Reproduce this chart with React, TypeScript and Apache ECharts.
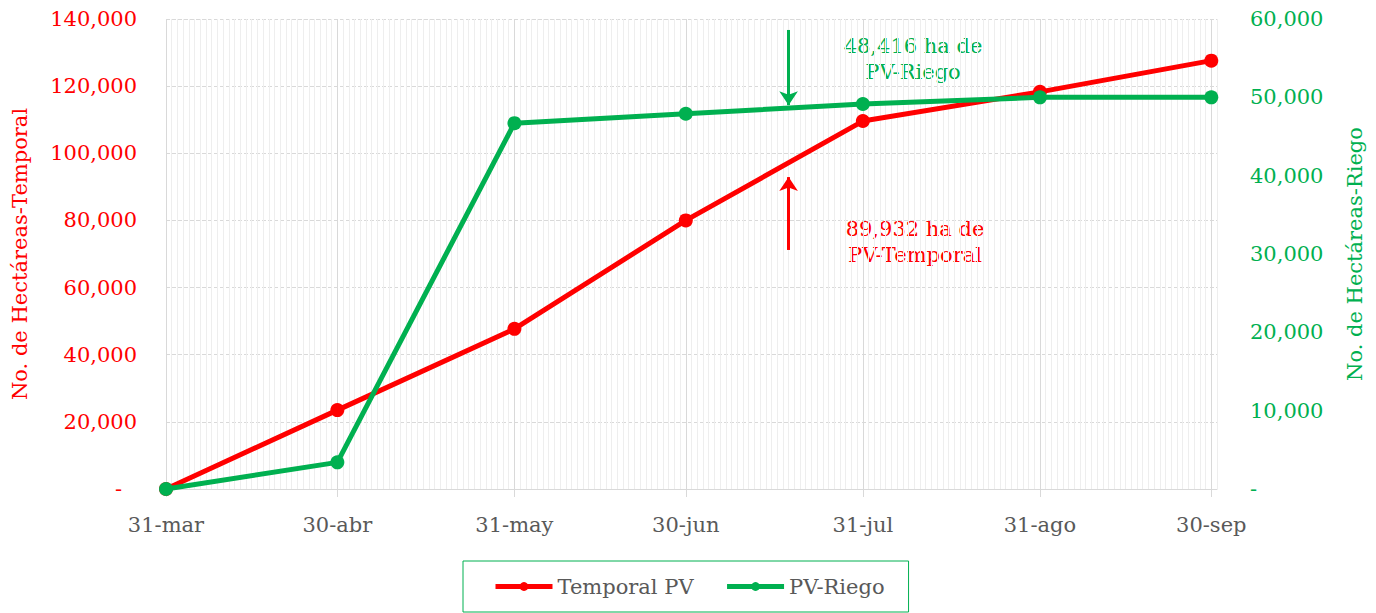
import React, { useEffect, useRef } from "react";
import * as echarts from "echarts";

const fechas = ["31-mar", "30-abr", "31-may", "30-jun", "31-jul", "31-ago", "30-sep"];
const temporalPV = [0, 23500, 47700, 80000, 109600, 118300, 127600];
const pvRiego = [0, 3400, 46700, 47900, 49150, 50000, 50000];
const arrowDay = "18-jul";
const arrowTemporal = [71200, 92900];
const arrowRiego = [58600, 49000];
const meses = ["ene", "feb", "mar", "abr", "may", "jun", "jul", "ago", "sep", "oct", "nov", "dic"];

const RED = "#ff0000";
const GREEN = "#00b050";
const GRAY = "#595959";
const FONT = "DejaVu Serif";
const FS = 21;

function buildDays(): string[] {
  const out: string[] = [];
  const d = new Date(2024, 2, 31);
  const end = new Date(2024, 9, 1);
  while (d <= end) {
    out.push(`${d.getDate()}-${meses[d.getMonth()]}`);
    d.setDate(d.getDate() + 1);
  }
  return out;
}

export default function App() {
  const ref = useRef<HTMLDivElement>(null);
  useEffect(() => {
    if (!ref.current) return;
    const chart = echarts.init(ref.current, undefined, { renderer: "svg" });
    const days = buildDays();
    const isMajor = (_i: number, v: string) => fechas.indexOf(v) >= 0;
    const fmt = (v: number) => (v === 0 ? "-" : v.toLocaleString("en-US"));
    chart.setOption({
      animation: false,
      textStyle: { fontFamily: FONT },
      grid: { left: 166, right: 159, top: 19, bottom: 124 },
      xAxis: [
        {
          type: "category",
          data: days,
          position: "bottom",
          boundaryGap: false,
          axisLine: { show: false },
          axisTick: { show: false },
          axisLabel: { show: false },
          splitLine: { show: true, interval: 0, lineStyle: { color: "#eeeeee", width: 1 } },
        },
        {
          type: "category",
          data: days,
          position: "bottom",
          boundaryGap: false,
          axisLine: { show: true, lineStyle: { color: "#d9d9d9", width: 1 } },
          axisTick: { show: true, interval: isMajor, length: 8, lineStyle: { color: "#d9d9d9" } },
          axisLabel: {
            interval: isMajor,
            color: GRAY,
            fontFamily: FONT,
            fontSize: FS,
            margin: 25,
          },
          splitLine: { show: true, interval: isMajor, lineStyle: { color: "#d9d9d9", width: 1 } },
        },
      ],
      yAxis: [
        {
          type: "value",
          min: 0,
          max: 140000,
          interval: 20000,
          name: "No. de Hectáreas-Temporal",
          nameLocation: "middle",
          nameRotate: 90,
          nameGap: 136,
          nameTextStyle: { color: RED, fontSize: FS, fontFamily: FONT },
          axisLine: { show: false },
          axisTick: { show: false },
          axisLabel: {
            color: RED,
            fontSize: FS,
            fontFamily: FONT,
            margin: 29,
            formatter: (v: number) => (v === 0 ? "{z|-}" : fmt(v)),
            rich: { z: { color: RED, fontSize: FS, fontFamily: FONT, padding: [0, 15, 0, 0] } },
          },
          splitLine: { show: true, lineStyle: { color: "#d9d9d9", type: "dashed", width: 1 } },
        },
        {
          type: "value",
          min: 0,
          max: 60000,
          interval: 10000,
          position: "right",
          name: "No. de Hectáreas-Riego",
          nameLocation: "middle",
          nameRotate: 90,
          nameGap: 127,
          nameTextStyle: { color: GREEN, fontSize: FS, fontFamily: FONT },
          axisLine: { show: false },
          axisTick: { show: false },
          axisLabel: { color: GREEN, fontSize: FS, fontFamily: FONT, margin: 33, formatter: fmt },
          splitLine: { show: false },
        },
      ],
      legend: {
        left: 463,
        top: 561,
        borderColor: GREEN,
        borderWidth: 1,
        padding: [15, 24, 15, 30],
        itemWidth: 57,
        itemHeight: 11,
        itemGap: 31,
        lineStyle: { width: 5 },
        textStyle: { color: GRAY, fontSize: FS, fontFamily: FONT },
        data: ["Temporal PV", "PV-Riego"],
      },
      series: [
        {
          name: "Temporal PV",
          type: "line",
          xAxisIndex: 1,
          yAxisIndex: 0,
          data: fechas.map((f, i) => [f, temporalPV[i]]),
          symbol: "circle",
          symbolSize: 14,
          itemStyle: { color: RED },
          lineStyle: { color: RED, width: 5 },
          z: 3,
          markLine: {
            silent: true,
            symbol: ["none", "arrow"],
            symbolSize: [14, 14],
            label: { show: false },
            lineStyle: { color: RED, width: 3, type: "solid" },
            data: [[{ coord: [arrowDay, arrowTemporal[0]] }, { coord: [arrowDay, arrowTemporal[1]] }]],
          },
        },
        {
          name: "PV-Riego",
          type: "line",
          xAxisIndex: 1,
          yAxisIndex: 1,
          data: fechas.map((f, i) => [f, pvRiego[i]]),
          symbol: "circle",
          symbolSize: 14,
          itemStyle: { color: GREEN },
          lineStyle: { color: GREEN, width: 5 },
          z: 4,
          markLine: {
            silent: true,
            symbol: ["none", "arrow"],
            symbolSize: [14, 14],
            label: { show: false },
            lineStyle: { color: GREEN, width: 3, type: "solid" },
            data: [[{ coord: [arrowDay, arrowRiego[0]] }, { coord: [arrowDay, arrowRiego[1]] }]],
          },
        },
      ],
      graphic: [
        {
          type: "text",
          x: 913,
          y: 59,
          style: {
            text: "48,416 ha de\nPV-Riego",
            fill: GREEN,
            font: `${FS}px "${FONT}"`,
            textAlign: "center",
            textVerticalAlign: "middle",
            lineHeight: 26,
          },
        },
        {
          type: "text",
          x: 915,
          y: 242,
          style: {
            text: "89,932 ha de\nPV-Temporal",
            fill: RED,
            font: `${FS}px "${FONT}"`,
            textAlign: "center",
            textVerticalAlign: "middle",
            lineHeight: 26,
          },
        },
      ],
    });
    return () => chart.dispose();
  }, []);
  return (
    <div
      ref={ref}
      style={{ position: "absolute", left: 0, top: 0, width: 1376, height: 613 }}
    />
  );
}
